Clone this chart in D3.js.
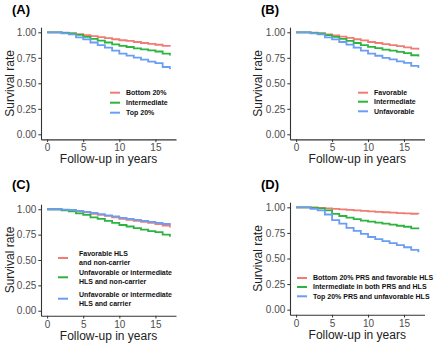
<!DOCTYPE html>
<html>
<head>
<meta charset="utf-8">
<script src="https://cdn.jsdelivr.net/npm/d3@7"></script>
<style>
  body { margin: 0; background: #fff; }
  text { font-family: "Liberation Sans", Arial, sans-serif; }
</style>
</head>
<body>
<div id="chart"></div>
<script>
// follow-up years where the curves step
var years = [0, 1, 2, 3, 4, 5, 6, 7, 8, 9, 10, 11, 12, 13, 14, 15, 16, 17];
var xTicks = [0, 5, 10, 15];
var yTicks = [0, 0.25, 0.5, 0.75, 1];
var colors = ["#F07C74", "#2DB440", "#6A9EF5"];

// (A) PRS groups
var aNames = ["Bottom 20%", "Intermediate", "Top 20%"];
var aBottom = [1, 1, .996, .99, .982, .972, .962, .952, .942, .932, .922, .915, .905, .895, .887, .878, .866, .862];
var aInter  = [1, 1, .995, .99, .975, .955, .935, .918, .9, .882, .866, .856, .842, .832, .822, .812, .79, .772];
var aTop    = [1, 1, .99, .98, .95, .93, .9, .875, .85, .82, .79, .772, .752, .732, .712, .698, .66, .638];

// (B) HLS groups
var bNames = ["Favorable", "Intermediate", "Unfavorable"];
var bFav = [1, 1, .996, .99, .98, .97, .958, .946, .932, .92, .905, .895, .885, .875, .865, .852, .84, .83];
var bInt = [1, 1, .995, .988, .972, .955, .935, .915, .895, .875, .857, .845, .83, .82, .808, .795, .775, .762];
var bUnf = [1, 1, .99, .98, .95, .93, .905, .88, .85, .82, .79, .77, .75, .735, .715, .7, .67, .65];

// (C) HLS x carrier
var cNames = [["Favorable HLS", "and non-carrier"],
              ["Unfavorable or intermediate", "HLS and non-carrier"],
              ["Unfavorable or intermediate", "HLS and carrier"]];
var cFav    = [1, 1, .995, .99, .98, .97, .955, .945, .935, .92, .905, .895, .885, .875, .865, .855, .84, .82];
var cUnfNon = [1, 1, .99, .98, .96, .945, .92, .905, .885, .865, .845, .83, .815, .8, .785, .775, .75, .73];
var cUnfCar = [1, 1, .997, .993, .985, .975, .965, .952, .94, .93, .915, .905, .895, .885, .875, .865, .855, .845];

// (D) PRS x HLS
var dNames = ["Bottom 20% PRS and favorable HLS", "Intermediate in both PRS and HLS", "Top 20% PRS and unfavorable HLS"];
var dBottom = [1, 1, .998, .995, .99, .985, .98, .975, .97, .965, .96, .955, .952, .948, .944, .94, .937, .935];
var dInter  = [1, 1, .995, .99, .97, .935, .915, .9, .885, .87, .86, .85, .84, .83, .82, .81, .795, .785];
var dTop    = [1, 1, .985, .97, .93, .875, .84, .8, .77, .74, .71, .69, .67, .65, .63, .61, .585, .56];

var panels = [
  {tag: "(A)", series: [aBottom, aInter, aTop], names: aNames,
   left: 41, right: 176, top: 27.2, bottom: 139.4, tagX: 12, tagY: 14, titleX: 10,
   legX: 110, legY: [92.7, 102.7, 112.7]},
  {tag: "(B)", series: [bFav, bInt, bUnf], names: bNames,
   left: 290, right: 424.5, top: 27.2, bottom: 139.4, tagX: 261, tagY: 14, titleX: 258,
   legX: 358, legY: [92.7, 101.7, 111.3]},
  {tag: "(C)", series: [cFav, cUnfNon, cUnfCar], names: cNames,
   left: 41, right: 176, top: 204.2, bottom: 315.8, tagX: 12, tagY: 189, titleX: 10,
   legX: 58, legY: [258, 277.3, 298.7]},
  {tag: "(D)", series: [dBottom, dInter, dTop], names: dNames,
   left: 290, right: 424.5, top: 202.2, bottom: 314.8, tagX: 261, tagY: 189, titleX: 258,
   legX: 297, legY: [278, 287, 296.3]}
];

var svg = d3.select("#chart").append("svg")
    .attr("width", 440)
    .attr("height", 346);

panels.forEach(function(p) {
    var x = d3.scaleLinear().domain([-0.85, 17.85]).range([p.left, p.right]);
    var y = d3.scaleLinear().domain([-0.05, 1.05]).range([p.bottom, p.top]);
    var g = svg.append("g");

    g.append("text")
        .attr("x", p.tagX).attr("y", p.tagY)
        .style("font-size", "13px").style("font-weight", "bold")
        .text(p.tag);

    var line = d3.line()
        .x(function(d, i) { return x(years[i]); })
        .y(function(d) { return y(d); })
        .curve(d3.curveStepAfter);

    p.series.forEach(function(s, i) {
        g.append("path")
            .datum(s)
            .attr("d", line)
            .attr("fill", "none")
            .attr("stroke", colors[i])
            .attr("stroke-width", 1.8);
    });

    var ax = g.append("g")
        .attr("transform", "translate(0," + p.bottom + ")")
        .call(d3.axisBottom(x).tickValues(xTicks).tickSize(2.7).tickPadding(2).tickSizeOuter(0));
    var ay = g.append("g")
        .attr("transform", "translate(" + p.left + ",0)")
        .call(d3.axisLeft(y).tickValues(yTicks).tickFormat(d3.format(".2f")).tickSize(2.7).tickPadding(2).tickSizeOuter(0));
    [ax, ay].forEach(function(a) {
        a.select(".domain").attr("stroke", "#333").attr("stroke-width", 1.1);
        a.selectAll(".tick line").attr("stroke", "#333");
        a.selectAll(".tick text")
            .style("font-size", "10px")
            .style("font-family", "Liberation Sans, Arial, sans-serif")
            .attr("fill", "#4D4D4D");
    });

    g.append("text")
        .attr("x", (p.left + p.right) / 2)
        .attr("y", p.bottom + 24)
        .attr("text-anchor", "middle")
        .style("font-size", "12px")
        .attr("fill", "#222")
        .text("Follow-up in years");

    g.append("text")
        .attr("transform", "translate(" + p.titleX + "," + ((p.top + p.bottom) / 2) + ") rotate(-90)")
        .attr("text-anchor", "middle")
        .attr("dy", "0.35em")
        .style("font-size", "12px")
        .attr("fill", "#222")
        .text("Survival rate");

    p.names.forEach(function(n, i) {
        var ly = p.legY[i];
        g.append("line")
            .attr("x1", p.legX).attr("x2", p.legX + 10)
            .attr("y1", ly).attr("y2", ly)
            .attr("stroke", colors[i])
            .attr("stroke-width", 2);
        var lines = Array.isArray(n) ? n : [n];
        var t = g.append("text")
            .attr("x", p.legX + (lines.length > 1 ? 21 : 16))
            .attr("y", ly - (lines.length - 1) * 4.5)
            .attr("dy", "0.35em")
            .style("font-size", "7px")
            .style("font-weight", "bold")
            .attr("fill", "#111");
        lines.forEach(function(l, k) {
            t.append("tspan")
                .attr("x", p.legX + (lines.length > 1 ? 21 : 16))
                .attr("dy", k === 0 ? "0.35em" : "1.3em")
                .text(l);
        });
    });
});
</script>
</body>
</html>
